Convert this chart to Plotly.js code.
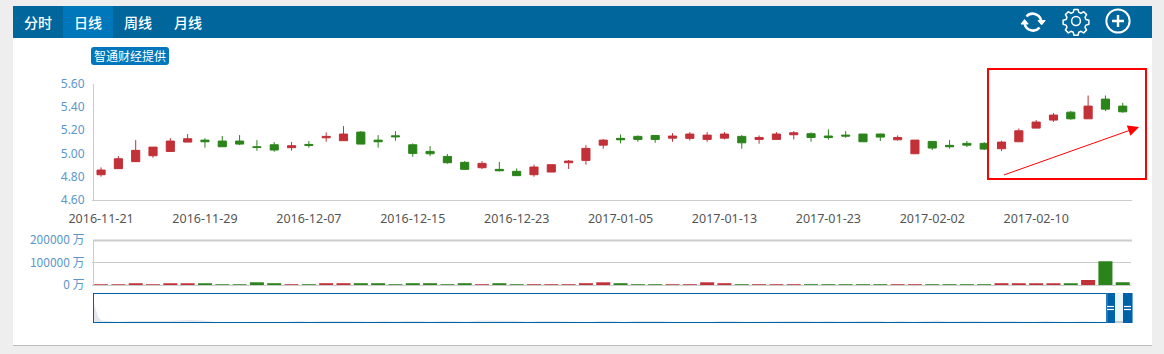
<!DOCTYPE html>
<html><head><meta charset="utf-8">
<script src="https://cdn.plot.ly/plotly-3.0.1.min.js"></script>
<style>
html,body{margin:0;padding:0;background:#eeeeee;width:1164px;height:354px;overflow:hidden;font-family:"Noto Sans CJK SC","Noto Sans",sans-serif}
#panel{position:absolute;left:13px;top:6px;width:1139px;height:339px;background:#fff;border-bottom:1px solid #bbb}
#bar{position:absolute;left:13px;top:6px;width:1139px;height:32px;background:#00669c}
.tab{position:absolute;top:0;width:50px;height:32px;line-height:32px;text-align:center;color:#fff;font-size:14px;font-weight:500}
#badge{position:absolute;left:91px;top:47px;width:78px;height:18px;line-height:18px;background:#0077bb;border-radius:3px;color:#fff;font-size:12px;text-align:center}
#icons{position:absolute;left:1010px;top:6px}
#chart{position:absolute;left:0;top:0;width:1164px;height:354px}
</style></head><body>
<div id="panel"></div>
<div id="bar">
<div class="tab" style="left:0">分时</div>
<div class="tab" style="left:50px;background:#0077bb">日线</div>
<div class="tab" style="left:100px">周线</div>
<div class="tab" style="left:150px">月线</div>
</div>
<div id="badge">智通财经提供</div>
<svg id="icons" width="142" height="32" viewBox="0 0 142 32" fill="none" stroke="#fff" stroke-linecap="butt">
<g stroke-width="2.6">
<path d="M16.5 10.5A8.5 8.5 0 0 1 31 14"/>
<path d="M29.5 21.5A8.5 8.5 0 0 1 14.7 18"/>
</g>
<path d="M11 18l3.6-4.4 3.6 4.4z" fill="#fff" stroke="#fff" stroke-width="1"/>
<path d="M28 14.5l3.6 4.4 3.6-4.4z" fill="#fff" stroke="#fff" stroke-width="1"/>
<g stroke-width="1.5" transform="translate(3.6 -1)">
<path d="M62 5h4l.8 3 2.2.9 2.7-1.6 2.9 2.9-1.6 2.7.9 2.2 3 .8v4l-3 .8-.9 2.2 1.6 2.7-2.9 2.9-2.7-1.6-2.2.9-.8 3h-4l-.8-3-2.2-.9-2.7 1.6-2.9-2.9 1.6-2.7-.9-2.2-3-.8v-4l3-.8.9-2.2-1.6-2.7 2.9-2.9 2.7 1.6 2.2-.9z" stroke-linejoin="round" transform="translate(-1.6 -0.6)"/>
<circle cx="62.4" cy="16" r="4.4"/>
</g>
<circle cx="108" cy="15" r="11.6" stroke-width="2"/>
<path d="M102 15h12M108 9v12" stroke-width="2.4"/>
</svg>
<div id="chart"></div>
<script>
const categories = ["2016-11-21","2016-11-22","2016-11-23","2016-11-24","2016-11-25","2016-11-28","2016-11-29","2016-11-30","2016-12-01","2016-12-02","2016-12-05","2016-12-06","2016-12-07","2016-12-08","2016-12-09","2016-12-12","2016-12-13","2016-12-14","2016-12-15","2016-12-16","2016-12-19","2016-12-20","2016-12-21","2016-12-22","2016-12-23","2016-12-28","2016-12-29","2016-12-30","2017-01-03","2017-01-04","2017-01-05","2017-01-06","2017-01-09","2017-01-10","2017-01-11","2017-01-12","2017-01-13","2017-01-16","2017-01-17","2017-01-18","2017-01-19","2017-01-20","2017-01-23","2017-01-24","2017-01-25","2017-01-26","2017-01-27","2017-02-01","2017-02-02","2017-02-03","2017-02-06","2017-02-07","2017-02-08","2017-02-09","2017-02-10","2017-02-13","2017-02-14","2017-02-15","2017-02-16","2017-02-17"];
const openPrices = [4.817,4.869,4.929,4.98,5.017,5.097,5.114,5.106,5.106,5.057,5.074,5.049,5.077,5.134,5.109,5.183,5.114,5.151,5.074,5.017,4.974,4.923,4.877,4.863,4.846,4.817,4.84,4.92,4.94,5.071,5.129,5.146,5.154,5.131,5.129,5.12,5.131,5.146,5.12,5.12,5.16,5.169,5.149,5.157,5.166,5.166,5.117,4.997,5.103,5.069,5.086,5.086,5.04,5.1,5.217,5.286,5.354,5.297,5.466,5.406];
const closePrices = [4.857,4.954,5.026,5.054,5.106,5.126,5.10,5.057,5.08,5.051,5.029,5.066,5.069,5.146,5.166,5.08,5.10,5.143,5.0,4.997,4.92,4.863,4.914,4.851,4.809,4.883,4.903,4.934,5.043,5.114,5.117,5.12,5.12,5.149,5.166,5.157,5.166,5.091,5.137,5.166,5.177,5.137,5.137,5.149,5.1,5.14,5.137,5.114,5.046,5.057,5.071,5.037,5.097,5.194,5.269,5.329,5.297,5.406,5.38,5.357];
const highPrices = [4.88,4.977,5.114,5.054,5.131,5.166,5.131,5.149,5.157,5.114,5.097,5.097,5.106,5.18,5.234,5.191,5.157,5.191,5.086,5.063,4.994,4.934,4.934,4.926,4.871,4.903,4.903,4.943,5.071,5.123,5.163,5.154,5.154,5.174,5.183,5.183,5.183,5.157,5.154,5.183,5.191,5.18,5.206,5.191,5.166,5.169,5.154,5.114,5.103,5.114,5.106,5.097,5.109,5.214,5.286,5.346,5.363,5.497,5.497,5.434];
const lowPrices = [4.80,4.869,4.929,4.963,5.014,5.097,5.049,5.057,5.071,5.023,5.014,5.023,5.049,5.10,5.109,5.08,5.049,5.109,4.971,4.977,4.911,4.863,4.866,4.846,4.809,4.80,4.84,4.866,4.903,5.04,5.086,5.10,5.091,5.10,5.111,5.10,5.12,5.04,5.083,5.12,5.12,5.10,5.117,5.134,5.1,5.106,5.111,4.997,5.029,5.04,5.054,5.029,5.02,5.1,5.217,5.271,5.289,5.297,5.363,5.349];
const volumes = [3500,3500,8000,3500,8000,8000,8000,3500,3500,12000,8000,3500,3500,8000,8000,8000,8000,3500,8000,8000,3500,8000,3500,8000,3500,3500,3500,3500,8000,12000,8000,3500,3500,3500,3500,12000,8000,3500,3500,3500,3500,3500,3500,3500,3500,3500,3500,3500,3500,3500,3500,3500,8000,8000,8000,8000,8000,22000,106000,12000];
const navigatorX = [0,0.15,0.35,0.6,1,2,3,4,5,6,7,8,9,10,11,12,13,14,15,16,17,18,19,20,21,22,23,24,25,26,27,28,29,30,31,32,33,34,35,36,37,38,39,40,41,42,43,44,45,46,47,48,49,50,51,52,53,54,55,56,57,58,59,60,61,62,63,64,65,66,67,68,69,70,71,72,73,74,75,76,77,78,79,80,81,82,83,84];
const navigatorValues = [18,12,5,1.5,1,0.3,1,1,0.4,1,1.5,2,1.5,0.3,0,0,0.5,0,0,0.3,1,0.2,1,1.2,1,0.8,0.2,1,0.6,1,1,0.2,1,0.8,0.2,1.5,1.5,1.2,1.2,0.2,1,1,0.8,0.2,0,1,1,0,1,1,1,0.2,0,0.2,0,1,1,0.2,0.4,1,1,1.6,1.2,0.4,1,0.6,1,1.4,1.2,0.2,1,0.2,1,1.4,0.6,0.8,1.2,0.4,1,1,0.6,0.3,1,0.2,0,0.8,0.3,0];
const tickIdx = [0,6,12,18,24,30,36,42,48,54];
const tickLabels = tickIdx.map(i => categories[i]);
const tickText = ["2016-11-21","2016-11-29","2016-12-07","2016-12-15","2016-12-23","2017-01-05","2017-01-13","2017-01-23","2017-02-02","2017-02-10"];
const red = "#c23038", green = "#2b831b", blueText = "#5b97c9", gridGrey = "#cccccc";
const fontFam = '"Noto Sans","Noto Sans CJK SC",sans-serif';
const W = 1164, H = 354;
const fx = p => p / W, fy = p => 1 - p / H;
const volColors = openPrices.map((o, i) => closePrices[i] >= o ? red : green);
const traces = [
 {type:"candlestick", x:categories, open:openPrices, close:closePrices, high:highPrices, low:lowPrices,
  increasing:{line:{color:red,width:1},fillcolor:red}, decreasing:{line:{color:green,width:1},fillcolor:green},
  whiskerwidth:0, xaxis:"x", yaxis:"y", hoverinfo:"skip", showlegend:false},
 {type:"bar", x:categories, y:volumes, marker:{color:volColors,line:{width:0}}, xaxis:"x2", yaxis:"y2", hoverinfo:"skip", showlegend:false},
 {type:"scatter", mode:"lines", x:navigatorX, y:navigatorValues, line:{width:0,color:"#e3e7ec"}, fill:"tozeroy", fillcolor:"#e3e7ec", xaxis:"x3", yaxis:"y3", hoverinfo:"skip", showlegend:false}
];
const rectS = (x0,y0,x1,y1,fill,lineColor,lw) => ({type:"rect",xref:"paper",yref:"paper",x0:fx(x0),x1:fx(x1),y0:fy(y1),y1:fy(y0),fillcolor:fill,line:{color:lineColor||fill,width:lw===undefined?0:lw},layer:"above"});
const lineS = (x0,y0,x1,y1,c,lw) => ({type:"line",xref:"paper",yref:"paper",x0:fx(x0),x1:fx(x1),y0:fy(y0),y1:fy(y1),line:{color:c,width:lw},layer:"above"});
const shapes = [
 rectS(1115,293,1123,323,"#e9f4fb"),
 lineS(1115,322,1123,322,"#c4ccd2",2),
 lineS(93,293.5,1106,293.5,"#0060a8",1),
 lineS(93,322.5,1106,322.5,"#0060a8",1),
 lineS(93.5,293,93.5,323,"#0060a8",1),
 rectS(1106,293,1115,323,"#0060a8"),
 rectS(1123,293,1133,323,"#0060a8"),
 lineS(1107,293,1107,323,"#4d90c4",1),
 lineS(1132.5,293,1132.5,323,"#6aa6d6",1),
 lineS(1107,306.5,1114,306.5,"#fff",1.2), lineS(1107,309.5,1114,309.5,"#fff",1.2),
 lineS(1124,306.5,1131,306.5,"#fff",1.2), lineS(1124,309.5,1131,309.5,"#fff",1.2),
 lineS(93,240.5,1132,240.5,gridGrey,2),
 lineS(1131,200.5,1132,200.5,gridGrey,1),
 rectS(988,69,1146,179,"rgba(0,0,0,0)","#ff0000",2)
];
const layout = {
 width:W, height:H, margin:{l:0,r:0,t:0,b:0}, paper_bgcolor:"rgba(0,0,0,0)", plot_bgcolor:"rgba(0,0,0,0)",
 showlegend:false, dragmode:false, boxgap:0.53, boxgroupgap:0, bargap:0.19, font:{family:fontFam,size:12},
 xaxis:{type:"category", domain:[fx(92.4),fx(1131.4)], anchor:"y", range:[-0.5,59.5], tickmode:"array", tickvals:tickLabels, ticktext:tickText,
  tickfont:{color:"#555555",size:12.5,family:fontFam}, ticks:"", ticklabelstandoff:7, showline:true, linecolor:gridGrey, linewidth:1, showgrid:false, zeroline:false, rangeslider:{visible:false}, fixedrange:true},
 yaxis:{domain:[fy(200),fy(83.5)], anchor:"free", position:fx(93), range:[4.6,5.6], tickmode:"array", tickvals:[4.6,4.8,5.0,5.2,5.4,5.6], tickformat:".2f",
  tickfont:{color:blueText,size:12,family:fontFam}, ticks:"", ticklabelstandoff:6, showline:true, linecolor:gridGrey, linewidth:1, showgrid:false, zeroline:false, fixedrange:true},
 xaxis2:{type:"category", domain:[fx(92.4),fx(1131.4)], anchor:"y2", range:[-0.5,59.5], showticklabels:false, ticks:"", showline:true, linecolor:gridGrey, linewidth:1, showgrid:false, zeroline:false, fixedrange:true},
 yaxis2:{domain:[fy(285),fy(240)], anchor:"free", position:fx(93), range:[0,200000], tickmode:"array", tickvals:[0,100000,200000], ticktext:["0 万","100000 万","200000 万"],
  tickfont:{color:blueText,size:12,family:'"Noto Sans CJK SC","Noto Sans",sans-serif'}, ticks:"", ticklabelstandoff:6, showline:true, linecolor:gridGrey, linewidth:1, showgrid:true, gridcolor:gridGrey, gridwidth:1, zeroline:false, fixedrange:true},
 xaxis3:{domain:[fx(94),fx(1106)], anchor:"y3", range:[0,84], visible:false, fixedrange:true},
 yaxis3:{domain:[fy(322),fy(294)], anchor:"x3", range:[0,28], visible:false, fixedrange:true},
 shapes:shapes,
 annotations:[{xref:"paper",yref:"paper",x:fx(1139),y:fy(127),axref:"pixel",ayref:"pixel",ax:-138,ay:49,showarrow:true,arrowcolor:"#ff0000",arrowwidth:1,arrowhead:2,arrowsize:2.2,standoff:0,xanchor:"center",yanchor:"middle"}]
};
Plotly.newPlot("chart", traces, layout, {displayModeBar:false, staticPlot:true});
</script>
</body></html>
